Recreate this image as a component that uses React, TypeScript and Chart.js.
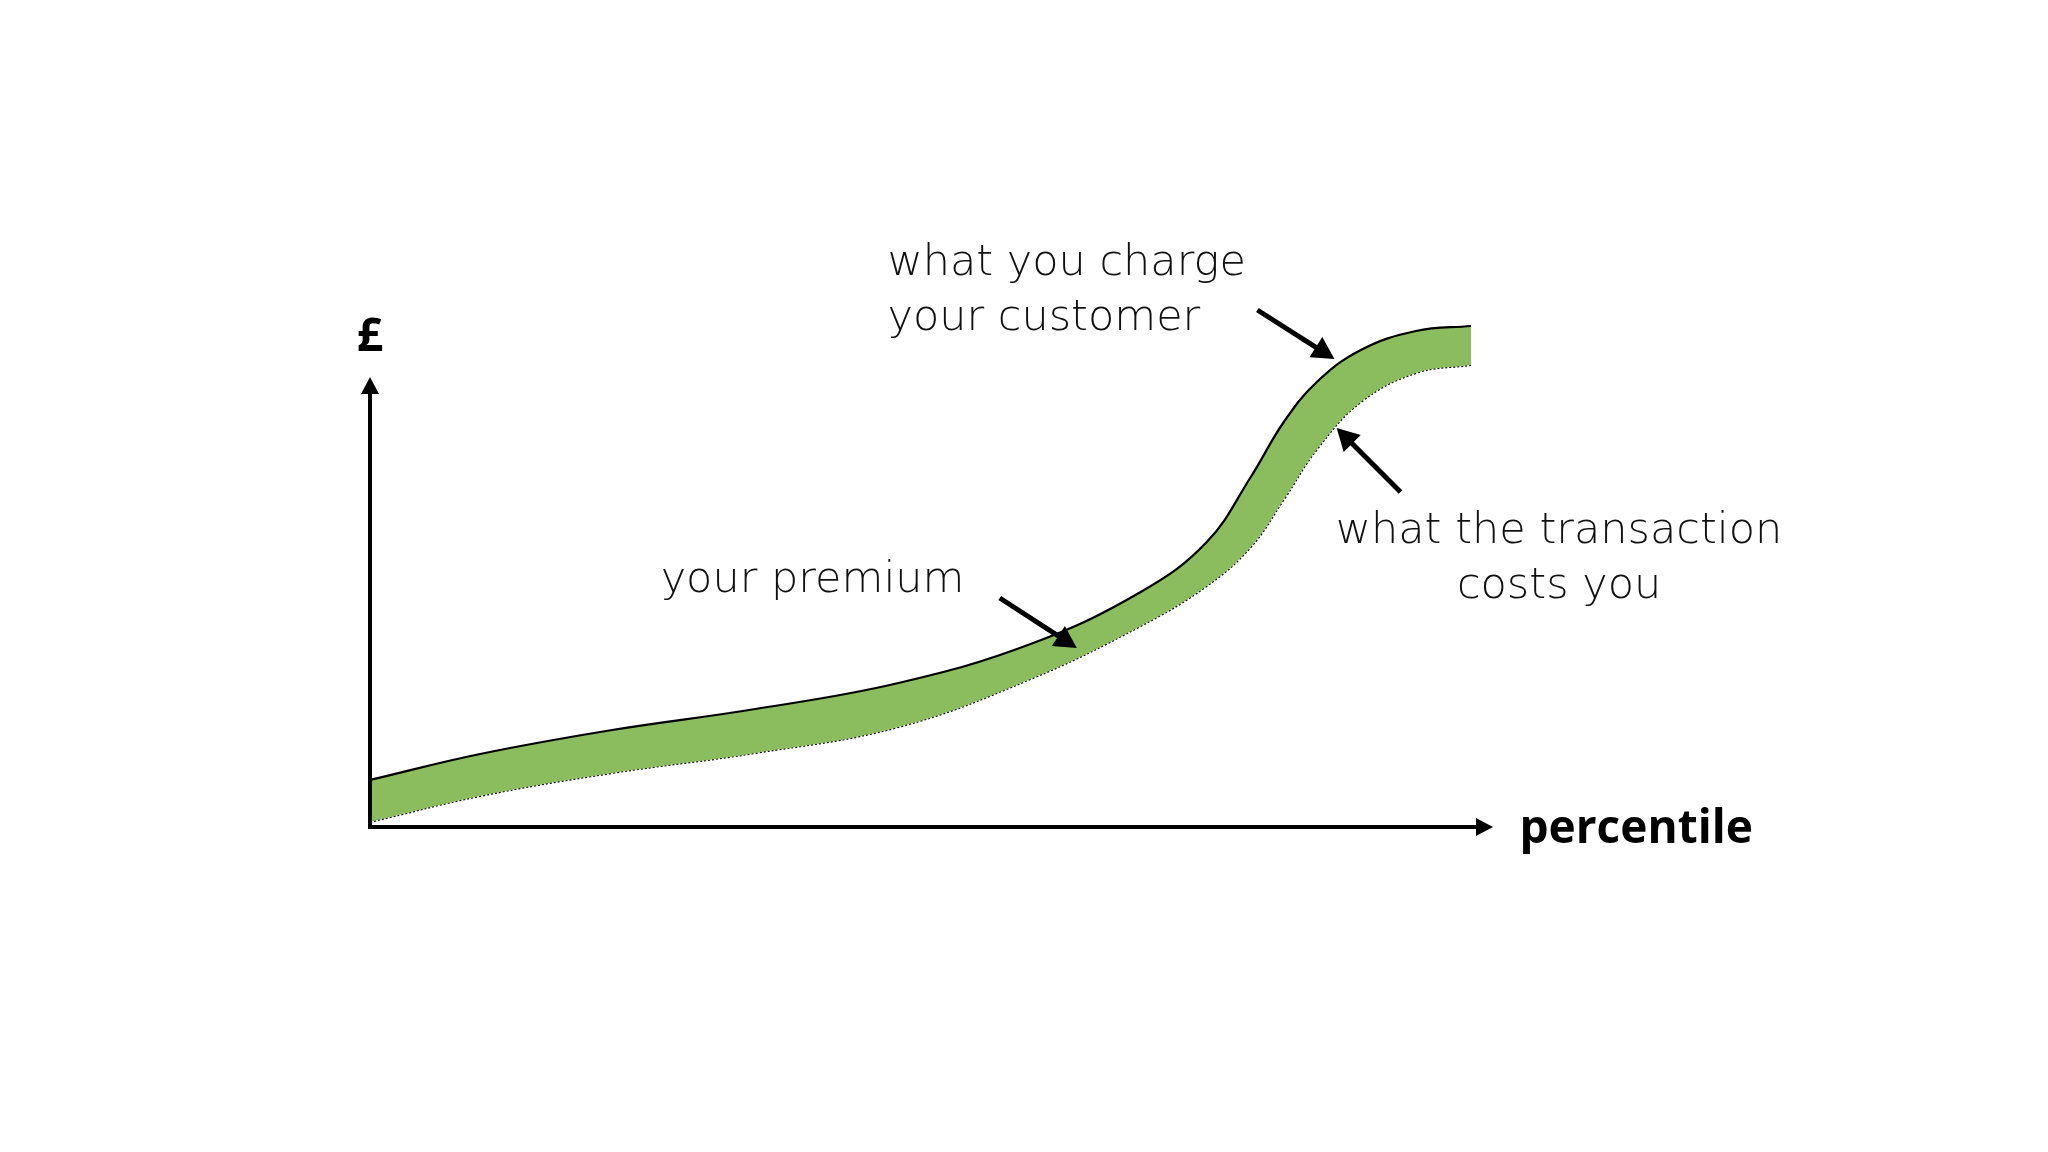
import React, { useEffect, useRef } from "react";
import { Chart, registerables } from "chart.js";

Chart.register(...registerables);

// percentile (x) values
const percentiles = [0, 10, 22, 35, 48, 60, 70, 76, 80, 83, 86, 90, 95, 100];
// what you charge your customer (£)
const chargeValues = [9.4, 14.6, 19.4, 23.6, 28.8, 36.6, 47.0, 57.0, 70.0, 81.0, 89.0, 95.4, 99.2, 100.2];
// what the transaction costs you (£)
const costValues = [1.0, 6.2, 10.8, 14.8, 20.0, 29.6, 40.2, 48.2, 56.0, 65.5, 75.5, 85.0, 90.8, 92.4];

const axisLabels = { x: "percentile", y: "£" };

const annotationLabels = [
  { lines: ["what you charge", "your customer"], x: 47.0, y: 110.4, align: "left" },
  { lines: ["your premium"], x: 26.4, y: 47.0, align: "left" },
  { lines: ["what the transaction", "costs you"], x: 108.0, y: 56.8, align: "center" },
];

const annotationArrows = [
  { from: [80.6, 103.4], to: [87.6, 93.6] },
  { from: [93.6, 67.0], to: [87.8, 79.8] },
  { from: [57.2, 45.8], to: [64.2, 35.8] },
];

const X_MAX = 102;
const Y_MAX = 110;
const Y_AXIS_TOP = 90;

const LIGHT_FONT = '200 43px "DejaVu Sans", "Open Sans", sans-serif';
const BOLD_FONT = '700 46px "Open Sans", Lato, "Noto Sans", sans-serif';

function drawArrow(ctx: CanvasRenderingContext2D, x1: number, y1: number, x2: number, y2: number, width: number, headLen: number, headHalf: number) {
  const ang = Math.atan2(y2 - y1, x2 - x1);
  const bx = x2 - Math.cos(ang) * headLen;
  const by = y2 - Math.sin(ang) * headLen;
  ctx.save();
  ctx.strokeStyle = "#000";
  ctx.fillStyle = "#000";
  ctx.lineWidth = width;
  ctx.lineCap = "butt";
  ctx.beginPath();
  ctx.moveTo(x1, y1);
  ctx.lineTo(bx + Math.cos(ang) * 2, by + Math.sin(ang) * 2);
  ctx.stroke();
  ctx.beginPath();
  ctx.moveTo(x2, y2);
  ctx.lineTo(bx + Math.cos(ang + Math.PI / 2) * headHalf, by + Math.sin(ang + Math.PI / 2) * headHalf);
  ctx.lineTo(bx + Math.cos(ang - Math.PI / 2) * headHalf, by + Math.sin(ang - Math.PI / 2) * headHalf);
  ctx.closePath();
  ctx.fill();
  ctx.restore();
}

const decorPlugin = {
  id: "decor",
  afterDatasetsDraw(chart: any) {
    const ctx: CanvasRenderingContext2D = chart.ctx;
    const xs = chart.scales.x;
    const ys = chart.scales.y;
    const x0 = xs.getPixelForValue(0);
    const y0 = ys.getPixelForValue(0);

    drawArrow(ctx, x0, y0 + 2, x0, ys.getPixelForValue(Y_AXIS_TOP), 4, 17, 9);
    drawArrow(ctx, x0 - 2, y0, xs.getPixelForValue(X_MAX), y0, 4, 17, 9);

    ctx.save();
    ctx.fillStyle = "#000";
    ctx.font = BOLD_FONT;
    ctx.textBaseline = "alphabetic";
    ctx.textAlign = "center";
    ctx.fillText(axisLabels.y, x0, ys.getPixelForValue(95.2));
    ctx.textAlign = "left";
    ctx.fillText(axisLabels.x, xs.getPixelForValue(104.4), ys.getPixelForValue(-3.2));
    ctx.restore();

    annotationArrows.forEach((a) => {
      drawArrow(
        ctx,
        xs.getPixelForValue(a.from[0]), ys.getPixelForValue(a.from[1]),
        xs.getPixelForValue(a.to[0]), ys.getPixelForValue(a.to[1]),
        5, 22, 12
      );
    });

    ctx.save();
    ctx.fillStyle = "#111";
    ctx.font = LIGHT_FONT;
    ctx.textBaseline = "alphabetic";
    annotationLabels.forEach((t) => {
      ctx.textAlign = t.align as CanvasTextAlign;
      const px = xs.getPixelForValue(t.x);
      const py = ys.getPixelForValue(t.y);
      t.lines.forEach((line, i) => ctx.fillText(line, px, py + i * 55));
    });
    ctx.restore();
  },
};

export default function App() {
  const canvasRef = useRef<HTMLCanvasElement | null>(null);

  useEffect(() => {
    document.body.style.margin = "0";
    document.body.style.background = "#ffffff";
    const canvas = canvasRef.current;
    if (!canvas) return;
    const chart = new Chart(canvas, {
      type: "line",
      data: {
        datasets: [
          {
            label: "what you charge your customer",
            data: percentiles.map((p, i) => ({ x: p, y: chargeValues[i] })),
            borderColor: "#000000",
            borderWidth: 2.2,
            backgroundColor: "#8BBD5F",
            fill: "+1",
            pointRadius: 0,
            tension: 0.4,
          },
          {
            label: "what the transaction costs you",
            data: percentiles.map((p, i) => ({ x: p, y: costValues[i] })),
            borderColor: "#000000",
            borderWidth: 2,
            borderDash: [2, 2],
            backgroundColor: "#8BBD5F",
            fill: false,
            pointRadius: 0,
            tension: 0.4,
          },
        ],
      },
      options: {
        responsive: false,
        animation: false,
        devicePixelRatio: 1,
        layout: { padding: { left: 370, right: 555, top: 277, bottom: 325 } },
        plugins: { legend: { display: false }, tooltip: { enabled: false } },
        scales: {
          x: { type: "linear", min: 0, max: X_MAX, display: false },
          y: { type: "linear", min: 0, max: Y_MAX, display: false },
        },
      },
      plugins: [decorPlugin],
    });
    return () => chart.destroy();
  }, []);

  return (
    <div style={{ position: "fixed", left: 0, top: 0, width: 2048, height: 1152, background: "#fff" }}>
      <canvas ref={canvasRef} width={2048} height={1152} style={{ width: 2048, height: 1152 }} />
    </div>
  );
}
